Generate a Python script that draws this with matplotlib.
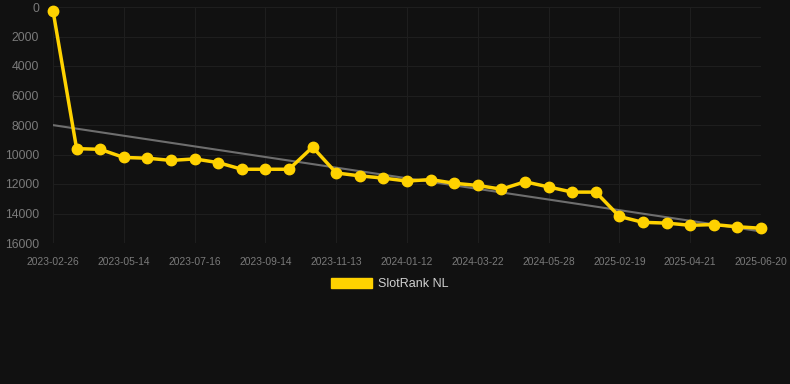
import numpy as np
from matplotlib import pyplot as plt
from matplotlib.patches import Patch

# datas (eixo categorico) e posicoes no ranking
dates = ["2023-02-26", "2023-03-24", "2023-04-18", "2023-05-14", "2023-06-04",
         "2023-06-25", "2023-07-16", "2023-08-06", "2023-08-25", "2023-09-14",
         "2023-10-04", "2023-10-24", "2023-11-13", "2023-12-03", "2023-12-23",
         "2024-01-12", "2024-02-04", "2024-02-27", "2024-03-22", "2024-04-14",
         "2024-05-06", "2024-05-28", "2024-06-20", "2024-07-15", "2025-02-19",
         "2025-03-10", "2025-03-31", "2025-04-21", "2025-05-10", "2025-05-31",
         "2025-06-20"]
rank = [250, 9600, 9650, 10200, 10250, 10400, 10300, 10550, 11000, 11000,
        11000, 9500, 11250, 11450, 11600, 11800, 11700, 11950, 12100, 12350,
        11850, 12200, 12550, 12550, 14200, 14600, 14650, 14800, 14750, 14900,
        15000]
seriesName = "SlotRank NL"

bg = "#111111"
gold = "#FFD200"
textColor = "#7a7a7a"

plt.rcParams['font.family'] = ['Liberation Sans', 'DejaVu Sans']

fig = plt.figure(figsize=(7.9, 3.84), dpi=100, facecolor=bg)
ax = fig.add_axes([53 / 790, 141 / 384, 708 / 790, 236 / 384], facecolor=bg)

x = np.arange(len(rank))

# linha de tendencia (regressao linear)
coef = np.polyfit(x, rank, 1)
ax.plot(x, np.polyval(coef, x), color="#6e6e6e", linewidth=1.5, zorder=2)

ax.plot(x, rank, color=gold, linewidth=2.5, marker="o", markersize=7.5,
        label=seriesName, zorder=3, clip_on=False)

ax.set_xlim(0, len(rank) - 1)
ax.set_ylim(16000, 0)
ax.set_yticks(range(0, 16001, 2000))
ax.set_xticks(x[::3])
ax.set_xticklabels(dates[::3])

ax.grid(True, color="#1e1e1e", linewidth=0.8)
ax.set_axisbelow(True)
for s in ax.spines.values():
    s.set_visible(False)
ax.tick_params(axis="x", colors=textColor, labelsize=7.4, length=0, pad=10)
ax.tick_params(axis="y", colors=textColor, labelsize=8.8, length=0, pad=10)

# legenda com retangulo amarelo
leg = fig.legend(handles=[Patch(facecolor=gold, edgecolor=gold)], labels=[seriesName],
                 loc="center", bbox_to_anchor=(390 / 790, 1 - 284 / 384),
                 frameon=False, fontsize=9, handlelength=3.3, handleheight=0.9,
                 handletextpad=0.5)
for t in leg.get_texts():
    t.set_color("#d0d0d0")

fig.savefig("out.png", dpi=100, facecolor=bg)
